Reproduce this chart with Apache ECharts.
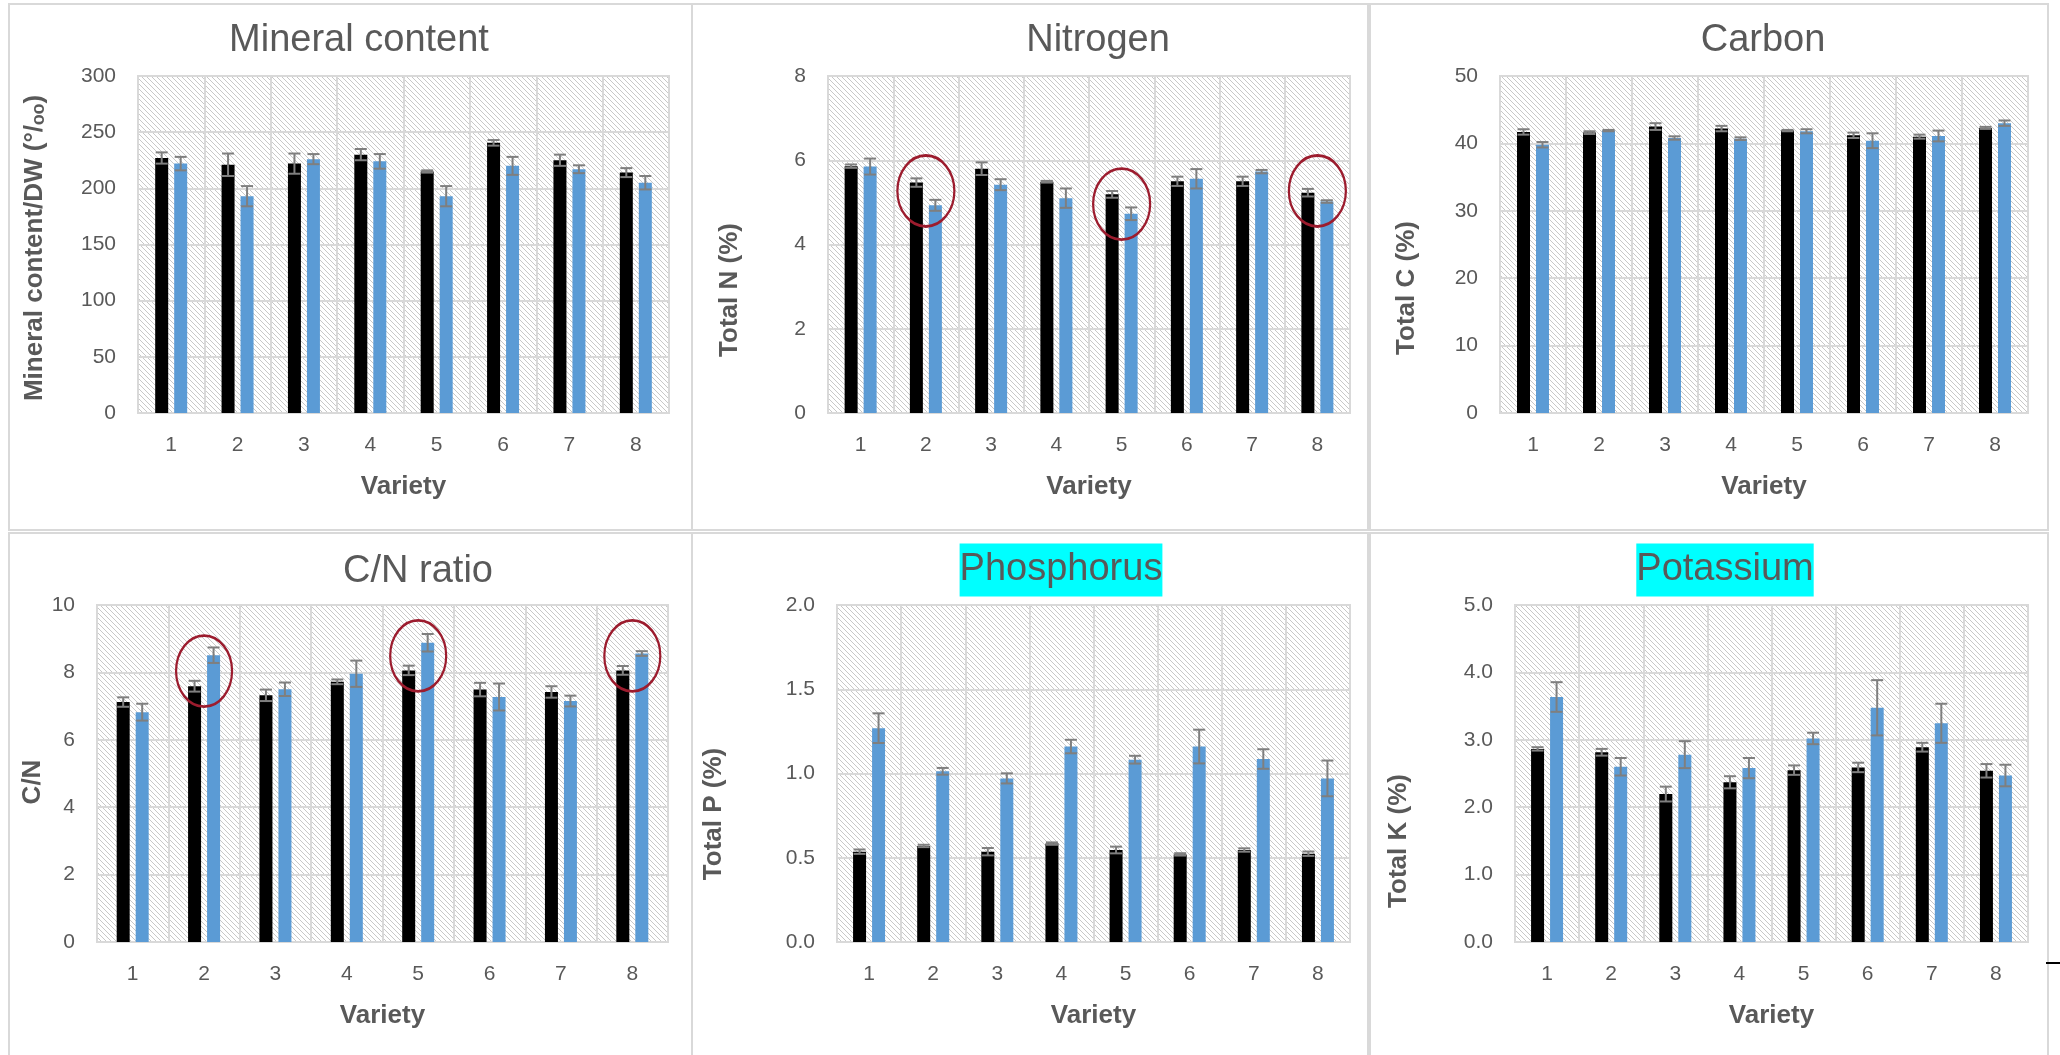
<!DOCTYPE html>
<html><head><meta charset="utf-8">
<script src="https://cdn.jsdelivr.net/npm/echarts@6/dist/echarts.min.js"></script>
<style>html,body{margin:0;padding:0;background:#fff}#c{width:2060px;height:1055px}</style>
</head><body><div id="c"></div>
<script>
// ---------- DATA ----------
const varieties = ['1','2','3','4','5','6','7','8'];

const mineralBlack    = [227, 221, 222, 230, 215, 240.5, 225, 214];
const mineralBlackErr = [5, 10, 9, 5, 1, 2.5, 5, 4];
const mineralBlue     = [222, 193, 226, 224, 193, 220, 217, 205];
const mineralBlueErr  = [6, 9, 4.5, 6.5, 9, 8, 3.5, 6];

const nitrogenBlack    = [5.86, 5.47, 5.80, 5.49, 5.19, 5.50, 5.50, 5.23];
const nitrogenBlackErr = [0.04, 0.10, 0.15, 0.02, 0.08, 0.11, 0.11, 0.09];
const nitrogenBlue     = [5.85, 4.93, 5.42, 5.10, 4.73, 5.56, 5.73, 5.02];
const nitrogenBlueErr  = [0.19, 0.13, 0.13, 0.23, 0.15, 0.23, 0.04, 0.03];

const carbonBlack    = [41.7, 41.6, 42.5, 42.2, 41.9, 41.2, 41.0, 42.3];
const carbonBlackErr = [0.4, 0.2, 0.5, 0.4, 0.1, 0.4, 0.3, 0.15];
const carbonBlue     = [39.8, 41.9, 40.8, 40.7, 41.8, 40.4, 41.1, 43.0];
const carbonBlueErr  = [0.4, 0.1, 0.25, 0.2, 0.3, 1.1, 0.8, 0.4];

const cnBlack    = [7.12, 7.59, 7.32, 7.72, 8.06, 7.49, 7.42, 8.06];
const cnBlackErr = [0.14, 0.16, 0.17, 0.07, 0.14, 0.20, 0.17, 0.13];
const cnBlue     = [6.82, 8.51, 7.50, 7.96, 8.88, 7.27, 7.15, 8.56];
const cnBlueErr  = [0.25, 0.23, 0.20, 0.39, 0.26, 0.40, 0.16, 0.07];

const phosBlack    = [0.536, 0.570, 0.536, 0.584, 0.546, 0.520, 0.546, 0.524];
const phosBlackErr = [0.013, 0.007, 0.022, 0.007, 0.020, 0.007, 0.010, 0.013];
const phosBlue     = [1.269, 1.013, 0.971, 1.160, 1.082, 1.160, 1.086, 0.971];
const phosBlueErr  = [0.088, 0.020, 0.030, 0.040, 0.023, 0.100, 0.058, 0.106];

const potBlack    = [2.865, 2.815, 2.195, 2.370, 2.550, 2.590, 2.890, 2.540];
const potBlackErr = [0.025, 0.05, 0.11, 0.09, 0.07, 0.07, 0.065, 0.10];
const potBlue     = [3.635, 2.600, 2.780, 2.580, 3.020, 3.475, 3.245, 2.470];
const potBlueErr  = [0.22, 0.13, 0.20, 0.15, 0.085, 0.41, 0.29, 0.16];

// annotation circles (category index, value at circle centre)
const nitrogenCircleCats = [1, 4, 7];
const nitrogenCircleVals = [5.27, 4.96, 5.27];
const cnCircleCats = [1, 4, 7];
const cnCircleVals = [8.04, 8.49, 8.49];

// ---------- STYLE / LAYOUT ----------
const FONT = "'Liberation Sans', Arial, sans-serif";
const TXT = '#595959';
const GRIDC = '#d9d9d9';
const BLACK = '#000000';
const BLUE = '#5b9bd5';
const ERRC = '#7f7f7f';
const RED = '#9c1c2e';
const BAR_W = 13, BAR_GAP = 6;

const panels = [
  {title:'Mineral content', yName:'Mineral content/DW (°/ₒₒ)', max:300, interval:50, dec:0,
   black:mineralBlack, blackErr:mineralBlackErr, blue:mineralBlue, blueErr:mineralBlueErr,
   grid:{left:138, top:76, width:531, height:337}, titleAt:[359,41], yNameAt:[35,248],
   box:[9,4,683,526], hl:false},
  {title:'Nitrogen', yName:'Total N (%)', max:8, interval:2, dec:0,
   black:nitrogenBlack, blackErr:nitrogenBlackErr, blue:nitrogenBlue, blueErr:nitrogenBlueErr,
   grid:{left:828, top:76, width:522, height:337}, titleAt:[1098,41], yNameAt:[730,290],
   box:[692,4,676,526], hl:false, circles:{cats:nitrogenCircleCats, vals:nitrogenCircleVals, size:[57,71]}},
  {title:'Carbon', yName:'Total C (%)', max:50, interval:10, dec:0,
   black:carbonBlack, blackErr:carbonBlackErr, blue:carbonBlue, blueErr:carbonBlueErr,
   grid:{left:1500, top:76, width:528, height:337}, titleAt:[1763,41], yNameAt:[1407,288],
   box:[1370,4,678,526], hl:false},
  {title:'C/N ratio', yName:'C/N', max:10, interval:2, dec:0,
   black:cnBlack, blackErr:cnBlackErr, blue:cnBlue, blueErr:cnBlueErr,
   grid:{left:97, top:605, width:571, height:337}, titleAt:[418,572], yNameAt:[33,782],
   box:[9,533,683,530], hl:false, circles:{cats:cnCircleCats, vals:cnCircleVals, size:[56,71]}},
  {title:'Phosphorus', yName:'Total P (%)', max:2, interval:0.5, dec:1,
   black:phosBlack, blackErr:phosBlackErr, blue:phosBlue, blueErr:phosBlueErr,
   grid:{left:837, top:605, width:513, height:337}, titleAt:[1061,570], yNameAt:[714,814],
   box:[692,533,676,530], hl:true},
  {title:'Potassium', yName:'Total K (%)', max:5, interval:1, dec:1,
   black:potBlack, blackErr:potBlackErr, blue:potBlue, blueErr:potBlueErr,
   grid:{left:1515, top:605, width:513, height:337}, titleAt:[1725,570], yNameAt:[1399,841],
   box:[1370,533,678,530], hl:true}
];

function hatchCanvas(){
  const s = 5;
  const c = document.createElement('canvas');
  c.width = s; c.height = s;
  const g = c.getContext('2d');
  g.fillStyle = '#ffffff'; g.fillRect(0,0,s,s);
  g.strokeStyle = '#c8c8c8'; g.lineWidth = 1;
  g.beginPath();
  g.moveTo(-1,-1); g.lineTo(s+1,s+1);
  g.moveTo(-1,s-1); g.lineTo(1,s+1);
  g.moveTo(s-1,-1); g.lineTo(s+1,1);
  g.stroke();
  return c;
}
const hatch = hatchCanvas();

function errSeries(i, vals, errs, sign){
  const off = sign * (BAR_W + BAR_GAP) / 2;
  return {
    type:'custom', xAxisIndex:i, yAxisIndex:i, z:5, silent:true,
    data: vals.map((v,k)=>[k, v, errs[k]]),
    encode:{x:0, y:1},
    renderItem:function(params, api){
      const k = api.value(0), v = api.value(1), e = api.value(2);
      const hi = api.coord([k, v + e]);
      const lo = api.coord([k, v - e]);
      const x = hi[0] + off;
      const cap = 6;
      const st = {stroke:ERRC, lineWidth:2};
      return {type:'group', children:[
        {type:'line', shape:{x1:x, y1:hi[1], x2:x, y2:lo[1]}, style:st},
        {type:'line', shape:{x1:x-cap, y1:hi[1], x2:x+cap, y2:hi[1]}, style:st},
        {type:'line', shape:{x1:x-cap, y1:lo[1], x2:x+cap, y2:lo[1]}, style:st}
      ]};
    }
  };
}

const grids = [], xAxes = [], yAxes = [], series = [], graphics = [];

panels.forEach((p, i) => {
  grids.push(Object.assign({show:true, backgroundColor:{image:hatch, repeat:'repeat'},
    borderColor:GRIDC, borderWidth:2, containLabel:false}, p.grid));
  xAxes.push({
    type:'category', gridIndex:i, data:varieties,
    axisTick:{show:false},
    axisLine:{show:true, lineStyle:{color:GRIDC, width:2}},
    axisLabel:{color:TXT, fontSize:21, margin:22, fontFamily:FONT},
    splitLine:{show:true, interval:0, lineStyle:{color:GRIDC, width:2}},
    name:'Variety', nameLocation:'middle', nameGap:61,
    nameTextStyle:{color:TXT, fontSize:26, fontWeight:'bold', fontFamily:FONT}
  });
  yAxes.push({
    type:'value', gridIndex:i, min:0, max:p.max, interval:p.interval,
    axisLine:{show:false}, axisTick:{show:false},
    axisLabel:{color:TXT, fontSize:21, margin:22, fontFamily:FONT,
      formatter:(v)=>v.toFixed(p.dec)},
    splitLine:{show:true, lineStyle:{color:GRIDC, width:2}}
  });
  series.push({type:'bar', xAxisIndex:i, yAxisIndex:i, data:p.black, barWidth:BAR_W,
    barGap:(BAR_GAP/BAR_W*100)+'%', itemStyle:{color:BLACK}, silent:true, z:2});
  series.push({type:'bar', xAxisIndex:i, yAxisIndex:i, data:p.blue, barWidth:BAR_W,
    barGap:(BAR_GAP/BAR_W*100)+'%', itemStyle:{color:BLUE}, silent:true, z:2});
  series.push(errSeries(i, p.black, p.blackErr, -1));
  series.push(errSeries(i, p.blue, p.blueErr, 1));
  if (p.circles){
    series.push({type:'scatter', xAxisIndex:i, yAxisIndex:i, z:6, silent:true,
      symbol:'circle', symbolSize:p.circles.size,
      data:p.circles.cats.map((c,k)=>[c, p.circles.vals[k]]),
      itemStyle:{color:'rgba(0,0,0,0)', borderColor:RED, borderWidth:2.5, opacity:1}});
  }
  graphics.push({type:'rect', shape:{x:p.box[0], y:p.box[1], width:p.box[2], height:p.box[3]},
    style:{fill:'none', stroke:GRIDC, lineWidth:2}, silent:true, z:-10});
  const ts = {text:p.title, x:p.titleAt[0], y:p.titleAt[1], fill:TXT,
    font:'38px ' + FONT, align:'center', verticalAlign:'middle'};
  if (p.hl){ ts.backgroundColor = '#00ffff'; ts.padding = [7, 0, 8, 0]; }
  graphics.push({type:'text', style:ts, silent:true, z:10});
  graphics.push({type:'text', x:p.yNameAt[0], y:p.yNameAt[1], rotation:Math.PI/2,
    style:{text:p.yName, fill:TXT, font:'bold 26px ' + FONT, align:'center', verticalAlign:'middle'},
    silent:true, z:10});
});

graphics.push({type:'line', shape:{x1:2046, y1:963, x2:2060, y2:963}, style:{stroke:'#000', lineWidth:2}, silent:true});

const chart = echarts.init(document.getElementById('c'), null, {renderer:'canvas'});
chart.setOption({
  backgroundColor:'#ffffff',
  animation:false,
  textStyle:{fontFamily:FONT},
  grid:grids, xAxis:xAxes, yAxis:yAxes, series:series, graphic:graphics
});
</script></body></html>
